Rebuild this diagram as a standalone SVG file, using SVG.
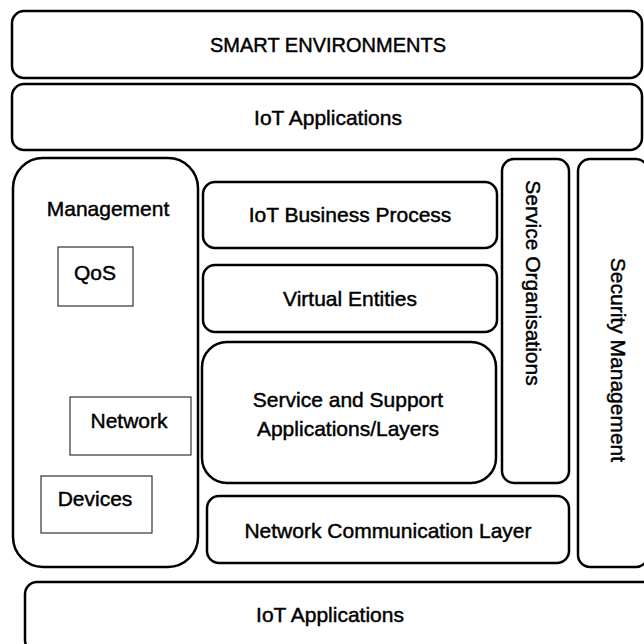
<svg xmlns="http://www.w3.org/2000/svg" width="644" height="644" viewBox="0 0 644 644">
<style>
.b{fill:#fff;stroke:#000;stroke-width:2.5}
.s{fill:#fff;stroke:#333;stroke-width:1.2}
text{font-family:"Liberation Sans",Arial,sans-serif;font-size:21px;fill:#000;stroke:#000;stroke-width:0.45;text-anchor:middle;dominant-baseline:central}
</style>
<rect width="644" height="644" fill="#fff"/>
<g id="smart-env"><rect class="b" x="12" y="11" width="630" height="67" rx="12"/><text x="328" y="45" style="font-size:20px">SMART ENVIRONMENTS</text></g>
<g id="iot-apps-top"><rect class="b" x="12" y="84" width="630" height="66" rx="12"/><text x="328" y="117">IoT Applications</text></g>
<g id="management"><rect class="b" x="13" y="158" width="185" height="409" rx="30"/><text x="108" y="208">Management</text></g>
<g id="qos"><rect class="s" x="58" y="247" width="75" height="59"/><text x="95" y="272">QoS</text></g>
<g id="network"><rect class="s" x="70" y="397" width="121" height="58"/><text x="129" y="420">Network</text></g>
<g id="devices"><rect class="s" x="41" y="476" width="111" height="57"/><text x="95" y="498">Devices</text></g>
<g id="business"><rect class="b" x="203" y="182" width="294" height="66" rx="12"/><text x="350" y="214">IoT Business Process</text></g>
<g id="virtual"><rect class="b" x="203" y="265" width="294" height="67" rx="12"/><text x="350" y="298">Virtual Entities</text></g>
<g id="service-support"><rect class="b" x="202" y="342" width="294" height="141" rx="25"/><text x="348" y="399">Service and Support</text><text x="348" y="428">Applications/Layers</text></g>
<g id="service-org"><rect class="b" x="502" y="159" width="67" height="324" rx="12"/><text transform="translate(533 283) rotate(90)">Service Organisations</text></g>
<g id="security"><rect class="b" x="578" y="159" width="70" height="408" rx="12"/><text transform="translate(618 360) rotate(90)">Security Management</text></g>
<g id="netcomm"><rect class="b" x="207" y="496" width="362" height="67" rx="12"/><text x="388" y="530">Network Communication Layer</text></g>
<g id="iot-apps-bottom"><rect class="b" x="25" y="582" width="630" height="70" rx="12"/><text x="330" y="614">IoT Applications</text></g>
<g id="connectors"></g>
</svg>
